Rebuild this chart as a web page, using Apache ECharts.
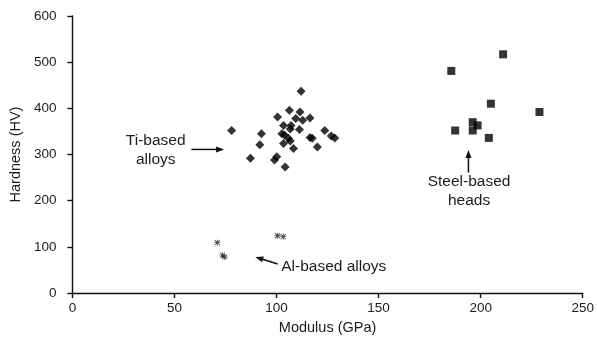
<!DOCTYPE html>
<html>
<head>
<meta charset="utf-8">
<script src="https://cdn.jsdelivr.net/npm/echarts@6/dist/echarts.min.js"></script>
<style>
html,body{margin:0;padding:0;background:#fff;}
#c{width:597px;height:342px;}
</style>
</head>
<body>
<div id="c"></div>
<script>
// ---- data (modulus GPa, hardness HV) ----
const tiModulus  = [112,78,92.6,91.8,87.2,99,100.1,104.2,100.5,106.3,111.5,109.4,112.8,116.4,103.4,107.1,106.7,111.2,102.6,103.9,105.8,106.7,116.4,117.5,123.6,126.8,128.5,103.4,108.3,120];
const tiHardness = [437,352,345,321,292,288,295,273,381,396,392,378,374,379,363,363,355,354,345,342,335,329,337,335,352,340,336,324,313,316];
const steelModulus  = [211,185.6,205,228.8,196.1,198.5,187.5,196.1,204];
const steelHardness = [517,481,410,392,370,363,352,352,336];
const alModulus  = [71,73.5,74.5,100.5,103.3];
const alHardness = [109,82,78,124,122];
const xTicks = [0,50,100,150,200,250];
const yTicks = [0,100,200,300,400,500,600];

function pairs(xs, ys){ return xs.map((x,i)=>[x, ys[i]]); }

const chart = echarts.init(document.getElementById('c'), null, {renderer:'canvas'});
const textColor = '#1c1c1c';
const font = 'Liberation Sans, Arial, Helvetica, sans-serif';
const axisCommon = {
  axisLine:{show:true, onZero:false, lineStyle:{color:'#111', width:1.4}},
  axisTick:{show:true, inside:false, length:5, lineStyle:{color:'#111', width:1.4}},
  splitLine:{show:false},
  axisLabel:{color:textColor, fontSize:13.5, fontFamily:font},
  nameLocation:'middle',
  nameTextStyle:{color:textColor, fontSize:14.5, fontFamily:font}
};
const asterisk = 'path://M4.3,0H5.7V10H4.3Z M0,4.3H10V5.7H0Z M1.2,0.2L9.8,8.8L8.8,9.8L0.2,1.2Z M8.8,0.2L9.8,1.2L1.2,9.8L0.2,8.8Z';

chart.setOption({
  animation:false,
  backgroundColor:'#fff',
  grid:{left:72, right:8, top:16, bottom:49},
  xAxis:Object.assign({}, axisCommon, {
    type:'value', min:xTicks[0], max:xTicks[xTicks.length-1], interval:50,
    name:'Modulus (GPa)', nameGap:27,
    axisLabel:Object.assign({}, axisCommon.axisLabel, {margin:8})
  }),
  yAxis:Object.assign({}, axisCommon, {
    type:'value', min:yTicks[0], max:yTicks[yTicks.length-1], interval:100,
    name:'Hardness (HV)', nameGap:45, nameRotate:90,
    axisLabel:Object.assign({}, axisCommon.axisLabel, {margin:16})
  }),
  series:[
    {type:'scatter', name:'Ti', data:pairs(tiModulus, tiHardness), symbol:'diamond', symbolSize:9, itemStyle:{color:'#000'}},
    {type:'scatter', name:'Steel', data:pairs(steelModulus, steelHardness), symbol:'rect', symbolSize:8, itemStyle:{color:'#000'}},
    {type:'scatter', name:'Al', data:pairs(alModulus, alHardness), symbol:asterisk, symbolSize:6, itemStyle:{color:'#222'}}
  ]
});

// ---- annotations (placed in data coordinates) ----
const arrows = [
  {from:[58.3,311], to:[74.3,311]},
  {from:[194,261], to:[194,310]},
  {from:[100.5,63], to:[89.6,78]}
];
const labels = [
  {at:[40.8,309], text:'Ti-based\nalloys', align:'center'},
  {at:[194.3,220], text:'Steel-based\nheads', align:'center'},
  {at:[102.3,58], text:'Al-based alloys', align:'left'}
];
const px = p => chart.convertToPixel({gridIndex:0}, p);
const els = [];
arrows.forEach(a=>{
  const p1 = px(a.from), p2 = px(a.to);
  const dx = p2[0]-p1[0], dy = p2[1]-p1[1];
  const L = Math.hypot(dx,dy), ux = dx/L, uy = dy/L;
  const hl = 8, hw = 3;
  const bx = p2[0]-ux*hl, by = p2[1]-uy*hl;
  els.push({type:'line', shape:{x1:p1[0], y1:p1[1], x2:bx+ux*1, y2:by+uy*1}, style:{stroke:'#111', lineWidth:1.5}});
  els.push({type:'polygon', shape:{points:[[p2[0],p2[1]],[bx-uy*hw,by+ux*hw],[bx+uy*hw,by-ux*hw]]}, style:{fill:'#111'}});
});
labels.forEach(l=>{
  const p = px(l.at);
  els.push({type:'text', x:p[0], y:p[1], style:{text:l.text, fill:textColor, font:'15.5px '+font, align:l.align, verticalAlign:'middle', lineHeight:19}});
});
chart.setOption({graphic:{elements:els}});
</script>
</body>
</html>
